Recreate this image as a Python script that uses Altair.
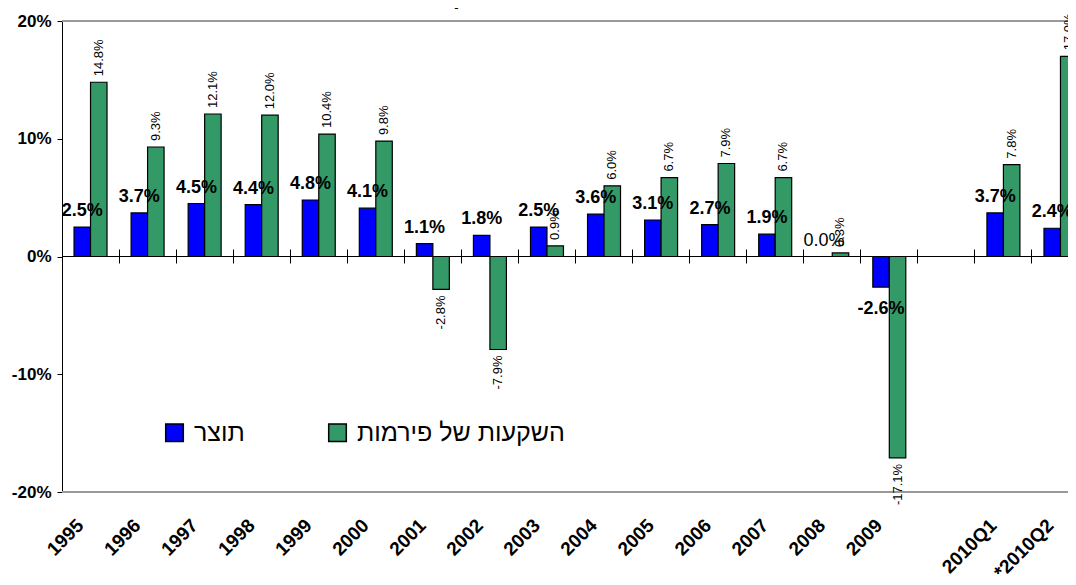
import altair as alt
import pandas as pd

# ---- data ----
periods = ["1995", "1996", "1997", "1998", "1999", "2000", "2001", "2002", "2003",
           "2004", "2005", "2006", "2007", "2008", "2009", "2010Q1", "*2010Q2"]
gdp = [2.5, 3.7, 4.5, 4.4, 4.8, 4.1, 1.1, 1.8, 2.5, 3.6, 3.1, 2.7, 1.9, 0.0, -2.6, 3.7, 2.4]
inv = [14.8, 9.3, 12.1, 12.0, 10.4, 9.8, -2.8, -7.9, 0.9, 6.0, 6.7, 7.9, 6.7, 0.3, -17.1, 7.8, 17.0]
series_names = ["תוצר", "השקעות של פירמות"]
series_colors = ["#0000FF", "#339966"]
x_domain = periods[:15] + [" "] + periods[15:]   # empty slot between 2009 and 2010Q1
y_ticks = [-20, -10, 0, 10, 20]
y_bounds = [-20, 20]
title_text = "שיעורי צמיחה של התוצר ושל השקעות הפירמות"

rows = []
for p, g, i in zip(periods, gdp, inv):
    rows.append({"period": p, "series": series_names[0], "code": "g", "value": g, "label": f"{g:.1f}%"})
    rows.append({"period": p, "series": series_names[1], "code": "i", "value": i, "label": f"{i:.1f}%"})
df = pd.DataFrame(rows)

FONT = "Liberation Sans"

xscale = alt.Scale(domain=x_domain, range=[0, 1027], paddingInner=0, paddingOuter=0)
oscale = alt.Scale(domain=series_names, paddingInner=0, paddingOuter=0.73)
yscale = alt.Scale(domain=y_bounds, nice=False, zero=False)

y_axis = alt.Axis(values=y_ticks, labelExpr="datum.value + '%'", labelFont=FONT,
                  labelFontSize=17, labelFontWeight="bold", labelColor="black",
                  labelPadding=6, tickSize=5, tickColor="black", domainColor="black",
                  domainWidth=1, grid=False, title=None)

base = alt.Chart(df)

frame = alt.Chart(pd.DataFrame({"b": y_bounds})).mark_rule(color="#999999", strokeWidth=2).encode(
    y=alt.Y("b:Q", scale=yscale, axis=y_axis)
)

bars = base.mark_bar(stroke="black", strokeWidth=1.2).encode(
    x=alt.X("period:N", scale=xscale,
            axis=alt.Axis(orient="top", offset=-242, bandPosition=0, labels=False,
                          domain=False, ticks=True, tickSize=14, tickColor="black",
                          tickWidth=1, grid=False, title=None)),
    xOffset=alt.XOffset("series:N", scale=oscale),
    y=alt.Y("value:Q", scale=yscale, axis=y_axis),
    color=alt.Color("series:N", scale=alt.Scale(domain=series_names, range=series_colors),
                    legend=alt.Legend(orient="none", legendX=100, legendY=399,
                                      direction="horizontal", title=None,
                                      symbolType="square", symbolSize=310,
                                      symbolStrokeColor="black", symbolStrokeWidth=1.5,
                                      symbolOpacity=1, labelFont=FONT, labelFontSize=25,
                                      labelColor="black", labelOffset=7, labelLimit=400,
                                      columnPadding=80, padding=0)),
)

zero = alt.Chart(pd.DataFrame({"z": [0]})).mark_rule(color="black", strokeWidth=1).encode(
    y=alt.Y("z:Q", scale=yscale, axis=y_axis)
)

def enc(axis=None):
    return dict(
        x=alt.X("period:N", scale=xscale, axis=axis),
        xOffset=alt.XOffset("series:N", scale=oscale),
        y=alt.Y("value:Q", scale=yscale, axis=y_axis),
        text=alt.Text("label:N"),
    )

label_axis = alt.Axis(orient="bottom", labelAngle=-45, labelAlign="right", labelBaseline="middle",
                      labelFont=FONT, labelFontSize=19, labelFontWeight="bold", labelColor="black",
                      labelPadding=30, labelOffset=-10, ticks=False, domain=False, grid=False,
                      title=None, labelOverlap=False, labelBound=False)

gdp_pos = base.transform_filter("datum.code == 'g' && datum.value > 0").mark_text(
    font=FONT, fontSize=18, fontWeight="bold", align="center", baseline="alphabetic", dy=-11,
    color="black").encode(**enc(label_axis))

gdp_zero = base.transform_filter("datum.code == 'g' && datum.value == 0").mark_text(
    font=FONT, fontSize=18, fontWeight="normal", align="center", baseline="alphabetic", dy=-11,
    color="black").encode(**enc())

gdp_neg = base.transform_filter("datum.code == 'g' && datum.value < 0").mark_text(
    font=FONT, fontSize=18, fontWeight="bold", align="center", baseline="alphabetic", dy=27,
    color="black").encode(**enc())

inv_pos = base.transform_filter("datum.code == 'i' && datum.value >= 0").mark_text(
    font=FONT, fontSize=13, angle=270, align="left", baseline="middle", dx=6,
    color="black").encode(**enc())

inv_neg = base.transform_filter("datum.code == 'i' && datum.value < 0").mark_text(
    font=FONT, fontSize=13, angle=270, align="right", baseline="middle", dx=-6,
    color="black").encode(**enc())

title = alt.Chart(pd.DataFrame({"t": [title_text]})).mark_text(
    font=FONT, fontSize=24, fontWeight="bold", align="center", baseline="alphabetic",
    color="black").encode(text="t:N", x=alt.value(505), y=alt.value(-17))

chart = alt.layer(frame, bars, zero, gdp_pos, gdp_zero, gdp_neg, inv_pos, inv_neg, title).resolve_axis(
    x="independent"
).properties(
    width=1006, height=471,
    autosize=alt.AutoSizeParams(type="none"),
    padding={"left": 54, "top": 13, "right": 0, "bottom": 85},
).configure_view(strokeWidth=0)

chart.save("out.html", embed_options={"renderer": "svg", "actions": False})
